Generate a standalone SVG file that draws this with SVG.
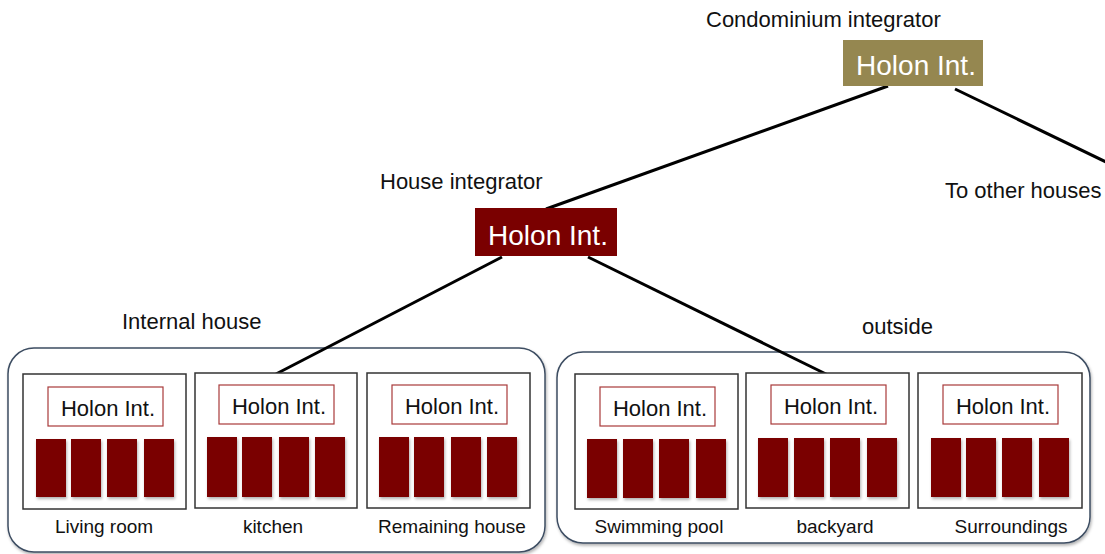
<svg xmlns="http://www.w3.org/2000/svg" width="1105" height="554" viewBox="0 0 1105 554">
  <defs>
    <filter id="soft" x="-10%" y="-10%" width="130%" height="130%">
      <feDropShadow dx="1" dy="2" stdDeviation="1.5" flood-color="#000" flood-opacity="0.3"/>
    </filter>
  </defs>
  <style>
    text { font-family: "Liberation Sans", Arial, sans-serif; fill: #111; }
    .cap { font-size: 22px; }
    .lbl { font-size: 19px; text-anchor: middle; }
    .big { font-size: 28px; fill: #fff; text-anchor: middle; }
    .hi { font-size: 22px; text-anchor: middle; }
    .grp { fill: #fff; stroke: #3d4d62; stroke-width: 1.5; filter: url(#soft); }
    .room { fill: #fff; stroke: #333; stroke-width: 1.5; }
    .hbox { fill: #fff; stroke: #a83a3a; stroke-width: 1.2; }
    .bar { fill: #7a0000; filter: url(#soft); }
    .edge { stroke: #000; stroke-width: 3; fill: none; }
  </style>
  <rect width="1105" height="554" fill="#fff"/>

  <!-- area groupings -->
  <g id="internal-house">
    <rect class="grp" x="8" y="348" width="537" height="204" rx="26"/>
    <text class="cap" x="122" y="329">Internal house</text>
  </g>
  <g id="outside">
    <rect class="grp" x="557" y="352" width="533" height="191" rx="26"/>
    <text class="cap" x="862" y="334">outside</text>
  </g>

  <!-- connectors -->
  <g id="connectors">
    <line class="edge" x1="888" y1="86" x2="546" y2="209"/>
    <line class="edge" x1="955" y1="89" x2="1106" y2="162"/>
    <line class="edge" x1="502" y1="257" x2="276" y2="374"/>
    <line class="edge" x1="588" y1="257" x2="828" y2="375"/>
  </g>

  <!-- top-level integrators -->
  <g id="condominium">
    <text class="cap" x="706" y="27">Condominium integrator</text>
    <rect x="843" y="40" width="140" height="46" fill="#958750"/>
    <text class="big" x="916" y="75">Holon Int.</text>
  </g>
  <g id="house">
    <text class="cap" x="380" y="189">House integrator</text>
    <rect x="475" y="208" width="142" height="48" fill="#7a0000"/>
    <text class="big" x="548" y="245">Holon Int.</text>
  </g>
  <g id="other-houses">
    <text class="cap" x="945" y="198">To other houses</text>
  </g>

  <!-- rooms -->
  <g id="living-room">
    <rect class="room" x="23" y="374" width="163" height="135"/>
    <rect class="hbox" x="48" y="387" width="115" height="39"/>
    <text class="hi" x="108" y="416">Holon Int.</text>
    <rect class="bar" x="36" y="439" width="30" height="58"/>
    <rect class="bar" x="71" y="439" width="30" height="58"/>
    <rect class="bar" x="107" y="439" width="30" height="58"/>
    <rect class="bar" x="144" y="439" width="30" height="58"/>
    <text class="lbl" x="104" y="533">Living room</text>
  </g>
  <g id="kitchen">
    <rect class="room" x="195" y="373" width="162" height="135"/>
    <rect class="hbox" x="219" y="385" width="115" height="39"/>
    <text class="hi" x="279" y="414">Holon Int.</text>
    <rect class="bar" x="207" y="437" width="30" height="60"/>
    <rect class="bar" x="242" y="437" width="30" height="60"/>
    <rect class="bar" x="279" y="437" width="30" height="60"/>
    <rect class="bar" x="315" y="437" width="30" height="60"/>
    <text class="lbl" x="273" y="533">kitchen</text>
  </g>
  <g id="remaining-house">
    <rect class="room" x="367" y="373" width="163" height="135"/>
    <rect class="hbox" x="392" y="385" width="115" height="39"/>
    <text class="hi" x="452" y="414">Holon Int.</text>
    <rect class="bar" x="379" y="437" width="30" height="60"/>
    <rect class="bar" x="414" y="437" width="30" height="60"/>
    <rect class="bar" x="451" y="437" width="30" height="60"/>
    <rect class="bar" x="487" y="437" width="30" height="60"/>
    <text class="lbl" x="452" y="533">Remaining house</text>
  </g>
  <g id="swimming-pool">
    <rect class="room" x="575" y="374" width="163" height="135"/>
    <rect class="hbox" x="600" y="387" width="115" height="39"/>
    <text class="hi" x="660" y="416">Holon Int.</text>
    <rect class="bar" x="587" y="439" width="30" height="59"/>
    <rect class="bar" x="623" y="439" width="30" height="59"/>
    <rect class="bar" x="659" y="439" width="30" height="59"/>
    <rect class="bar" x="696" y="439" width="30" height="59"/>
    <text class="lbl" x="659" y="533">Swimming pool</text>
  </g>
  <g id="backyard">
    <rect class="room" x="746" y="373" width="163" height="135"/>
    <rect class="hbox" x="771" y="385" width="115" height="39"/>
    <text class="hi" x="831" y="414">Holon Int.</text>
    <rect class="bar" x="758" y="438" width="30" height="59"/>
    <rect class="bar" x="794" y="438" width="30" height="59"/>
    <rect class="bar" x="830" y="438" width="30" height="59"/>
    <rect class="bar" x="867" y="438" width="30" height="59"/>
    <text class="lbl" x="835" y="533">backyard</text>
  </g>
  <g id="surroundings">
    <rect class="room" x="918" y="373" width="164" height="135"/>
    <rect class="hbox" x="943" y="385" width="115" height="39"/>
    <text class="hi" x="1003" y="414">Holon Int.</text>
    <rect class="bar" x="931" y="438" width="30" height="59"/>
    <rect class="bar" x="966" y="438" width="30" height="59"/>
    <rect class="bar" x="1002" y="438" width="30" height="59"/>
    <rect class="bar" x="1039" y="438" width="30" height="59"/>
    <text class="lbl" x="1011" y="533">Surroundings</text>
  </g>
</svg>
